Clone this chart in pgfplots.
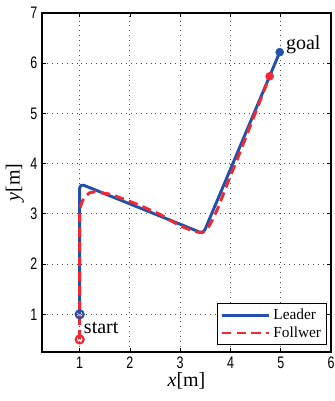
\documentclass[border=0pt]{standalone}
\usepackage{fontspec}
\setmainfont{Liberation Serif}
\newfontfamily\ticksans{Liberation Sans}
\usepackage{pgfplots}
\pgfplotsset{compat=1.18}
\definecolor{lblue}{RGB}{35,80,170}
\definecolor{lred}{RGB}{240,40,50}
\begin{document}
\begin{tikzpicture}
\begin{axis}[name=ax,
  scale only axis, width=216.75pt, height=254.25pt,
  xmin=0.25, xmax=6, ymin=0.25, ymax=7,
  xtick={1,2,3,4,5,6}, ytick={1,2,3,4,5,6,7},
  xticklabel={\ticksans\scalebox{0.75}[1]{\pgfmathprintnumber[assume math mode=true]{\tick}}},
  yticklabel={\ticksans\scalebox{0.75}[1]{\pgfmathprintnumber[assume math mode=true]{\tick}}},
  tick label style={font=\fontsize{12.5}{14}\selectfont},
  tick align=inside, tick style={black, line width=0.6pt}, major tick length=3pt,
  axis line style={line width=1pt},
  grid=major, grid style={black!70, line width=0.7pt, dash pattern=on 0.7pt off 3pt},
  xlabel={\textit{x}[m]}, ylabel={\textit{y}[m]},
  label style={font=\fontsize{15}{17}\selectfont},
  xlabel style={yshift=4pt}, ylabel style={yshift=-2pt},
  legend style={at={(0.986,0.02)}, anchor=south east, draw=black, line width=0.8pt,
    font=\fontsize{11.5}{13}\selectfont, inner sep=2pt, row sep=0pt},
  legend cell align=left,
  legend image code/.code={\draw[#1] plot coordinates {(0cm,0cm)(1.25cm,0cm)};},
]
\addplot[lblue, line width=2.2pt, line join=round] coordinates {
(1,1) (1,3.52) (1.03,3.57) (1.08,3.57) (3.38,2.64) (3.44,2.63) (3.49,2.68) (4.98,6.22)
};
\addlegendentry{Leader}
\addplot[lred, line width=2.2pt, dash pattern=on 7pt off 4pt, line join=round] coordinates {
(1,0.5) (1,3.1) (1.05,3.25) (1.12,3.36) (1.2,3.42) (1.3,3.44) (1.62,3.39) (2.15,3.19) (2.6,2.99) (3.0,2.76) (3.25,2.66) (3.38,2.63) (3.45,2.64) (3.52,2.68) (3.6,2.8) (3.74,3.09) (3.97,3.68) (4.1,4.0) (4.78,5.74)
};
\addlegendentry{Follwer}
\addplot[lblue, only marks, mark=o, mark size=3pt, line width=1.6pt, fill=white, forget plot] coordinates {(1,1)};
\addplot[lred, only marks, mark=o, mark size=3pt, line width=1.6pt, forget plot] coordinates {(1,0.5)};
\addplot[lblue, only marks, mark=*, mark size=3pt, forget plot] coordinates {(4.98,6.22)};
\addplot[lred, only marks, mark=*, mark size=3pt, forget plot] coordinates {(4.78,5.74)};
\node[anchor=west, inner sep=0pt, font=\fontsize{15}{17}\selectfont] at (axis cs:5.1,6.36) {goal};
\node[anchor=west, inner sep=0pt, font=\fontsize{15}{17}\selectfont] at (axis cs:1.08,0.72) {start};
\end{axis}
\pgfresetboundingbox
\path[use as bounding box] ([xshift=-31.5pt,yshift=-36.75pt]ax.south west) rectangle ([xshift=2.25pt,yshift=9.75pt]ax.north east);
\end{tikzpicture}
\end{document}
